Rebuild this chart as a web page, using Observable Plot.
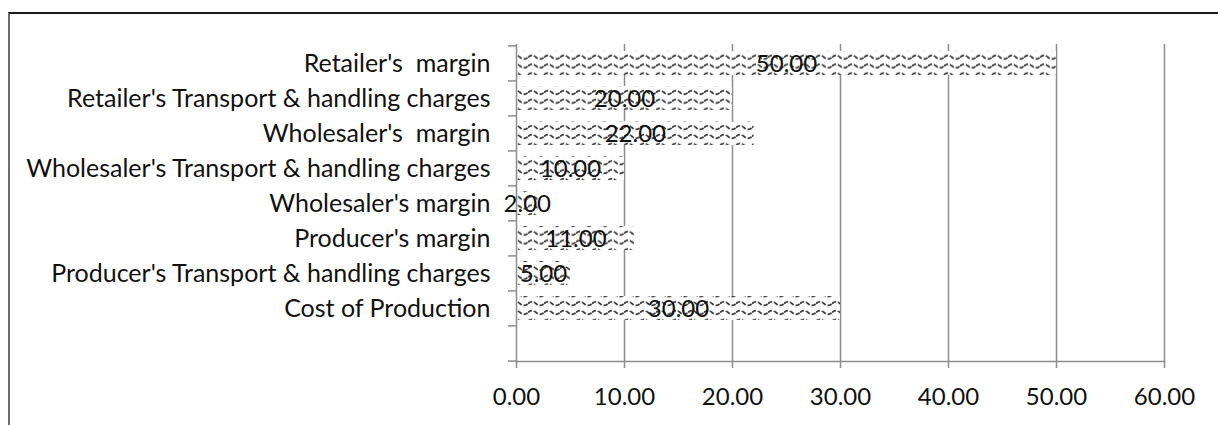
<!DOCTYPE html>
<html><head><meta charset="utf-8">
<script src="https://cdn.jsdelivr.net/npm/d3@7"></script>
<script src="https://cdn.jsdelivr.net/npm/@observablehq/plot@0.6"></script>
<style>
body{margin:0;background:#fff;}
#wrap{position:relative;width:1218px;height:425px;overflow:hidden;}
#frame{position:absolute;left:8px;top:12px;width:1300px;height:500px;border-top:2px solid #1a1a1a;border-left:2px solid #6e6e6e;pointer-events:none;}
svg text{white-space:pre;}
</style></head><body>
<div id="wrap"><div id="frame"></div></div>
<script>
const categories = ["Retailer's  margin", "Retailer's Transport & handling charges", "Wholesaler's  margin", "Wholesaler's Transport & handling charges", "Wholesaler's margin", "Producer's margin", "Producer's Transport & handling charges", "Cost of Production", ""];
const values = [50, 20, 22, 10, 2, 11, 5, 30];
const xTicks = [0, 10, 20, 30, 40, 50, 60];

const data = values.map((v, i) => ({category: categories[i], value: v}));
const fmt = d3.format(".2f");
const font = "Lato, Calibri, 'Open Sans', sans-serif";
const gridColor = "#8c8c8c";
const step = (425 - 64 - 44) / categories.length;

const chart = Plot.plot({
  width: 1218, height: 425,
  marginLeft: 516, marginRight: 54, marginTop: 44, marginBottom: 64,
  style: {fontFamily: font, fontSize: "24px", color: "#111", background: "transparent"},
  x: {domain: [0, 60], axis: null},
  y: {domain: categories, paddingInner: 0.32, paddingOuter: 0.16, axis: null},
  marks: [
    Plot.ruleX(xTicks.slice(1), {stroke: gridColor, strokeWidth: 1.5}),
    Plot.barX(data, {x: "value", y: "category", fill: "url(#wave)"}),
    Plot.ruleX([0], {stroke: gridColor, strokeWidth: 1.5}),
    Plot.frame({anchor: "bottom", stroke: gridColor, strokeWidth: 1.5}),
    Plot.axisX({ticks: xTicks, tickFormat: fmt, tickSize: 7, tickPadding: 19, stroke: gridColor, strokeWidth: 1.5, fill: "#111", fontSize: 24, label: null}),
    Plot.axisY({tickSize: 0, tickPadding: 26, fill: "#111", fontSize: 25, label: null}),
    Plot.axisY({tickSize: 8, tickFormat: () => "", dy: -step / 2, stroke: gridColor, strokeWidth: 1.5, label: null}),
    Plot.axisY({ticks: [""], tickSize: 8, tickFormat: () => "", dy: step / 2, stroke: gridColor, strokeWidth: 1.5, label: null}),
    Plot.text(data, {x: d => d.value / 2, y: "category", text: d => fmt(d.value), fontSize: 24, fill: "#111", dy: 1})
  ]
});

const defs = d3.select(chart).insert("defs", ":first-child");
const pat = defs.append("pattern").attr("id", "wave").attr("patternUnits", "userSpaceOnUse")
  .attr("width", 16).attr("height", 8.8);
pat.append("rect").attr("width", 16).attr("height", 8.8).attr("fill", "#fff");
pat.append("path").attr("d", "M0,4.4 Q4,0.8 8,4.4 T16,4.4")
  .attr("fill", "none").attr("stroke", "#3a3a3a").attr("stroke-width", 1.7).attr("stroke-dasharray", "4.5,1.8");

document.getElementById("wrap").prepend(chart);
</script>
</body></html>
